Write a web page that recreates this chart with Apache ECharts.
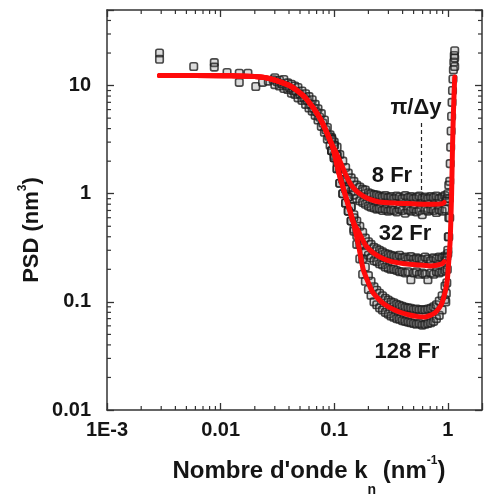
<!DOCTYPE html>
<html><head><meta charset="utf-8">
<script src="https://cdn.jsdelivr.net/npm/echarts@6/dist/echarts.min.js"></script>
<style>html,body{margin:0;padding:0;background:#fff}#c{width:485px;height:496px}</style>
</head><body><div id="c"></div>
<script>
// ---------- data ----------
// tick labels
const xTickLabels = ['1E-3', '0.01', '0.1', '1'];
const yTickLabels = ['0.01', '0.1', '1', '10'];
const xMinorTicks = [0.002,0.003,0.004,0.005,0.006,0.007,0.008,0.009,
  0.02,0.03,0.04,0.05,0.06,0.07,0.08,0.09,
  0.2,0.3,0.4,0.5,0.6,0.7,0.8,0.9];
const yMinorTicks = [0.02,0.03,0.04,0.05,0.06,0.07,0.08,0.09,
  0.2,0.3,0.4,0.5,0.6,0.7,0.8,0.9,
  2,3,4,5,6,7,8,9,20,30,40];

// measured points common to all series (low wavenumbers)
const kShared = [0.0029,0.0029,0.0058,0.0088,0.0088,0.0114,0.0146,0.0146,0.0174,0.0204,0.0234,0.0263,0.0290,
  0.030,0.030,0.0315,0.033,0.033,0.0345,0.036,0.036,0.0375,0.039,0.039,0.0405,0.042,0.042,0.0435,0.045,0.045,
  0.0465,0.048,0.048,0.050,0.052,0.052,0.054,0.056,0.056,0.058,0.060,0.060,0.062,0.064,0.064,0.066,0.068,0.068,
  0.070,0.072,0.072,0.0745,0.077,0.077,0.0795,0.082,0.082,0.0845,0.087,0.087,0.0895,0.092,0.092];
const psdShared = [20,17.5,15,16.3,14.8,13.2,13.0,10.7,13.0,9.8,10.7,11.0,11.3,
  11.8,10.2,10.8,11.2,9.9,10.4,11.4,9.4,10.0,10.6,9.2,9.5,10.3,8.5,9.0,9.9,8.3,
  8.8,9.6,7.7,8.3,8.9,7.3,7.7,8.4,6.7,7.3,7.9,6.2,6.7,7.4,5.8,6.2,6.7,5.3,
  5.7,6.1,4.8,5.1,5.5,4.2,4.5,4.8,3.7,3.9,4.1,3.2,3.4,3.5,2.8];

// wavenumbers of the high-k measured points (each series: upper and lower scatter)
const kHigh = [0.095,0.100,0.106,0.112,0.119,0.126,0.133,0.141,0.149,0.158,
  0.168,0.178,0.188,0.200,0.211,0.224,0.237,0.251,0.266,0.282,
  0.299,0.316,0.335,0.355,0.376,0.398,0.422,0.447,0.473,0.501,
  0.531,0.562,0.596,0.631,0.668,0.708,0.750,0.794,0.841,0.891,0.944];
const psd8Hi = [3.3,3.0,2.7,2.3,2.0,1.75,1.55,1.4,1.3,1.2,
  1.15,1.1,1.08,1.02,1.0,0.98,0.97,0.95,0.93,0.96,
  0.92,0.94,0.9,0.95,0.93,0.9,0.96,0.92,0.94,0.9,
  0.93,0.95,0.91,0.93,0.9,0.94,0.92,0.95,0.9,0.93,0.96];
const psd8Lo = [2.5,2.25,1.95,1.7,1.5,1.3,1.15,1.05,0.97,0.9,
  0.86,0.83,0.8,0.77,0.75,0.74,0.72,0.73,0.7,0.72,
  0.69,0.71,0.7,0.68,0.72,0.7,0.66,0.71,0.69,0.72,
  0.68,0.7,0.64,0.71,0.69,0.72,0.7,0.67,0.71,0.69,0.72];
const psd32Hi = [3.2,2.8,2.25,1.7,1.35,1.1,0.93,0.76,0.64,0.56,
  0.5,0.44,0.39,0.36,0.34,0.32,0.31,0.3,0.29,0.28,
  0.275,0.27,0.265,0.26,0.27,0.255,0.26,0.25,0.262,0.248,
  0.255,0.25,0.245,0.26,0.25,0.24,0.255,0.25,0.26,0.255,0.265];
const psd32Lo = [2.5,2.15,1.7,1.25,1.0,0.82,0.69,0.56,0.47,0.41,
  0.37,0.33,0.29,0.27,0.255,0.24,0.235,0.225,0.22,0.21,
  0.205,0.2,0.2,0.195,0.19,0.19,0.185,0.19,0.16,0.185,
  0.19,0.18,0.185,0.18,0.16,0.185,0.18,0.19,0.185,0.19,0.195];
const psd128Hi = [3.2,2.8,2.25,1.7,1.35,1.1,0.93,0.76,0.6,0.47,
  0.34,0.25,0.21,0.175,0.155,0.138,0.128,0.12,0.114,0.108,
  0.104,0.1,0.098,0.095,0.093,0.091,0.089,0.088,0.087,0.085,
  0.086,0.084,0.085,0.084,0.086,0.087,0.09,0.094,0.102,0.114,0.14];
const psd128Lo = [2.5,2.15,1.7,1.25,1.0,0.82,0.69,0.56,0.45,0.34,
  0.25,0.18,0.155,0.13,0.115,0.1,0.094,0.088,0.084,0.08,
  0.077,0.074,0.072,0.07,0.069,0.067,0.066,0.065,0.064,0.063,
  0.062,0.063,0.061,0.062,0.063,0.064,0.066,0.07,0.075,0.084,0.105];

// measured points of the steep rise near k = 1
const kRise = [0.96,0.97,0.98,0.99,1.0,1.01,1.02,1.03,1.04,1.05,1.06,1.07,1.08,1.09,1.1,1.11,1.12,1.13,1.14,1.15,1.15,1.15,
  0.96,0.98,1.0,1.02, 0.96,0.98,1.0,1.02,1.04];
const psdRise = [0.1,0.12,0.15,0.2,0.28,0.4,0.6,0.9,1.3,1.9,2.7,3.8,5.2,7,9,11.5,14,16.5,19,21,18,15,
  0.85,0.9,1.0,1.2, 0.24,0.26,0.3,0.4,0.6];

// fitted curves (red)
const fitK8 = [0.0029,0.006,0.0124,0.0244,0.0387,0.0477,0.0577,0.075,0.09,0.095,0.103,0.11,0.12,0.128,0.14,0.155,0.18,0.21,0.25,0.33,0.45,0.6,0.75,0.9,0.93];
const fit8  = [12.4,12.4,12.3,11.9,10.2,8.9,7.4,5.0,3.3,2.9,2.45,2.1,1.7,1.45,1.22,1.07,0.95,0.88,0.84,0.82,0.81,0.80,0.80,0.81,0.83];
const fitK32 = [0.0029,0.006,0.0124,0.0244,0.0387,0.0477,0.0577,0.075,0.09,0.098,0.111,0.13,0.147,0.166,0.19,0.22,0.27,0.327,0.42,0.52,0.7,0.89,0.93];
const fit32  = [12.4,12.4,12.3,11.9,10.2,8.9,7.4,5.0,3.3,2.6,1.5,0.85,0.55,0.435,0.33,0.284,0.25,0.234,0.225,0.22,0.215,0.225,0.235];
const fitK128 = [0.0029,0.006,0.0124,0.0244,0.0387,0.0477,0.0577,0.075,0.09,0.098,0.111,0.13,0.147,0.165,0.18,0.2,0.22,0.26,0.3,0.37,0.45,0.55,0.63,0.7,0.77,0.84,0.89,0.95,0.99,1.02,1.05,1.08,1.1,1.12,1.15];
const fit128  = [12.4,12.4,12.3,11.9,10.2,8.9,7.4,5.0,3.3,2.6,1.5,0.85,0.55,0.32,0.2,0.15,0.121,0.10,0.090,0.081,0.076,0.073,0.0726,0.075,0.079,0.088,0.098,0.125,0.16,0.24,0.375,1.0,2.7,5.5,12];

// pi/Δy marker (dashed line)
const piDyK = 0.585;
const piDyRange = [4.5, 0.85];

// ---------- chart ----------
const pairs = (ks, vs) => ks.map((k, i) => [k, vs[i]]);
const FONT = '"Liberation Sans", Arial, Helvetica, sans-serif';
const AX = '#333';
const TXT = '#151515';

function decadeLabel(v, labels, firstExp) {
  const e = Math.log10(v);
  const r = Math.round(e);
  if (Math.abs(e - r) > 1e-6) return '';
  const i = r - firstExp;
  return labels[i] !== undefined ? labels[i] : '';
}

// text run layout helper for titles with sub/superscripts
const mctx = document.createElement('canvas').getContext('2d');
function runGroup(pieces, cx, cy, rotate) {
  let total = 0;
  const ws = pieces.map(p => { mctx.font = 'bold ' + p.size + 'px ' + FONT; const w = mctx.measureText(p.t).width; total += w; return w; });
  let pos = -total / 2;
  const children = pieces.map((p, i) => {
    const el = { type: 'text', x: pos, y: p.dy || 0, silent: true,
      style: { text: p.t, font: 'bold ' + p.size + 'px ' + FONT, fill: TXT, align: 'left', verticalAlign: 'middle' } };
    pos += ws[i];
    return el;
  });
  return { type: 'group', x: cx, y: cy, rotation: rotate || 0, silent: true, children };
}

const markerStyle = {
  symbol: 'roundRect', symbolSize: 7.5,
  itemStyle: { color: 'rgba(110,110,110,0.3)', borderColor: '#1e1e1e', borderWidth: 1.6 }
};
function scatterSeries(name, data) {
  return Object.assign({ type: 'scatter', name, data, z: 2, silent: true }, markerStyle);
}
function fitSeries(name, data, extra) {
  return Object.assign({
    type: 'line', name, data, z: 5, symbol: 'none', smooth: 0.25, silent: true,
    lineStyle: { color: '#ff0a0a', width: 5, cap: 'round', join: 'round' }
  }, extra || {});
}

const xMin = 0.001, xMax = 2, yMin = 0.01, yMax = 50;
const baseAxis = {
  type: 'log', logBase: 10,
  axisLine: { show: true, lineStyle: { color: AX, width: 1.5 } },
  axisTick: { show: true, inside: true, length: 7, lineStyle: { color: AX, width: 1.3 } },
  splitLine: { show: false }, minorTick: { show: false }
};

const chart = echarts.init(document.getElementById('c'), null, { renderer: 'canvas' });
chart.setOption({
  animation: false,
  backgroundColor: '#fff',
  grid: { left: 107, top: 10, width: 380.7, height: 400, containLabel: false },
  xAxis: [
    Object.assign({}, baseAxis, { min: xMin, max: xMax, position: 'bottom',
      axisLabel: { show: true, margin: 10, color: TXT, fontSize: 20, fontWeight: 'bold', fontFamily: FONT,
        formatter: v => decadeLabel(v, xTickLabels, -3) } }),
    Object.assign({}, baseAxis, { min: xMin, max: xMax, position: 'top', axisLabel: { show: false } })
  ],
  yAxis: [
    Object.assign({}, baseAxis, { min: yMin, max: yMax, position: 'left',
      axisLabel: { show: true, margin: 16, color: TXT, fontSize: 20, fontWeight: 'bold', fontFamily: FONT,
        formatter: v => decadeLabel(v, yTickLabels, -2) } }),
    Object.assign({}, baseAxis, { min: yMin, max: yMax, position: 'right', axisLabel: { show: false } })
  ],
  series: [
    scatterSeries('shared', pairs(kShared, psdShared)),
    scatterSeries('8 Fr pts', pairs(kHigh, psd8Hi).concat(pairs(kHigh, psd8Lo))),
    scatterSeries('32 Fr pts', pairs(kHigh, psd32Hi).concat(pairs(kHigh, psd32Lo))),
    scatterSeries('128 Fr pts', pairs(kHigh, psd128Hi).concat(pairs(kHigh, psd128Lo))),
    scatterSeries('rise pts', pairs(kRise, psdRise)),
    fitSeries('128 Fr', pairs(fitK128, fit128)),
    fitSeries('32 Fr', pairs(fitK32, fit32)),
    fitSeries('8 Fr', pairs(fitK8, fit8), {
      markLine: {
        silent: true, symbol: ['none', 'none'], label: { show: false },
        lineStyle: { type: [4, 3], color: '#222', width: 1.2 },
        data: [[{ coord: [piDyK, piDyRange[0]] }, { coord: [piDyK, piDyRange[1]] }]]
      }
    }),
    {
      type: 'custom', name: 'xMinor', silent: true, z: 6, clip: false,
      data: xMinorTicks.map(v => [v, 1]),
      renderItem: function (params, api) {
        const cs = params.coordSys;
        const x = api.coord([api.value(0), 1])[0];
        const st = { stroke: AX, lineWidth: 1.2 };
        return { type: 'group', children: [
          { type: 'line', shape: { x1: x, y1: cs.y + cs.height, x2: x, y2: cs.y + cs.height - 4 }, style: st },
          { type: 'line', shape: { x1: x, y1: cs.y, x2: x, y2: cs.y + 4 }, style: st }
        ] };
      }
    },
    {
      type: 'custom', name: 'yMinor', silent: true, z: 6, clip: false,
      data: yMinorTicks.map(v => [1, v]),
      renderItem: function (params, api) {
        const cs = params.coordSys;
        const y = api.coord([1, api.value(1)])[1];
        const st = { stroke: AX, lineWidth: 1.2 };
        return { type: 'group', children: [
          { type: 'line', shape: { x1: cs.x, y1: y, x2: cs.x + 4, y2: y }, style: st },
          { type: 'line', shape: { x1: cs.x + cs.width, y1: y, x2: cs.x + cs.width - 4, y2: y }, style: st }
        ] };
      }
    }
  ],
  graphic: [
    runGroup([{ t: 'PSD (nm', size: 22 }, { t: '3', size: 12, dy: -9 }, { t: ')', size: 22 }], 32, 230, Math.PI / 2),
    runGroup([{ t: "Nombre d'onde k", size: 24 }, { t: 'n', size: 14, dy: 19 }, { t: ' (nm', size: 24 },
      { t: '-1', size: 12, dy: -10 }, { t: ')', size: 24 }], 309, 471, 0),
    { type: 'text', x: 392, y: 176, silent: true,
      style: { text: '8 Fr', align: 'center', verticalAlign: 'middle', fill: TXT, font: 'bold 22px ' + FONT } },
    { type: 'text', x: 405, y: 234, silent: true,
      style: { text: '32 Fr', align: 'center', verticalAlign: 'middle', fill: TXT, font: 'bold 22px ' + FONT } },
    { type: 'text', x: 407, y: 352, silent: true,
      style: { text: '128 Fr', align: 'center', verticalAlign: 'middle', fill: TXT, font: 'bold 22px ' + FONT } },
    { type: 'text', x: 416, y: 108, silent: true,
      style: { text: 'π/Δy', align: 'center', verticalAlign: 'middle', fill: TXT, font: 'bold 22px ' + FONT } }
  ]
});
</script>
</body></html>
